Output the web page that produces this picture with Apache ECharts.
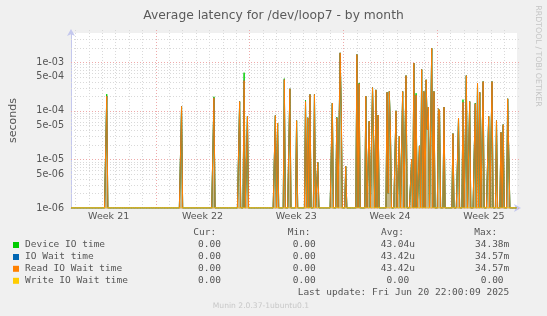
<!DOCTYPE html>
<html><head><meta charset="utf-8">
<script src="https://cdn.jsdelivr.net/npm/echarts@6/dist/echarts.min.js"></script>
<style>html,body{margin:0;padding:0;background:#f0f0f0;} #c{width:547px;height:316px;}</style>
</head><body><div id="c"></div>
<script>
// ---------- data ----------
const chartTitle = 'Average latency for /dev/loop7 - by month';
const seriesNames = ['Device IO time', 'IO Wait time', 'Read IO Wait time', 'Write IO Wait time'];
const seriesColors = ['#00cc00', '#0066b3', '#ff8000', '#ffcc00'];
// time axis in days since Sunday 2025-05-11 00:00; 2-hour samples
const START_DAY = 7.69;
const END_DAY = 40.97;
const SAMPLES_PER_DAY = 12;
const SAMPLE_COUNT = 400;
// non-zero 2h samples (sample index from START_DAY); all other samples are 0
const spikeIndex = [32, 99, 128, 151, 155, 158, 183, 185, 191, 196, 202, 210, 212, 214, 218, 221, 234, 238, 241, 242, 246,
  256, 258, 264, 267, 270, 271, 273, 275, 283, 284, 285, 286, 291, 294, 297, 300, 305, 307, 309, 312, 314, 316, 318, 319, 320,
  323, 325, 329, 330, 334, 342, 347, 351, 354, 357, 362, 364, 366, 369, 374, 377, 381, 385, 387, 391, 392];
const readWait = [2.0e-4, 1.23e-4, 1.85e-4, 1.55e-4, 4.2e-4, 7.7e-5, 8.0e-5, 5.6e-5, 4.4e-4, 2.84e-4, 6.3e-5, 1.55e-4, 7.2e-5, 2.17e-4, 2.17e-4, 8.7e-6, 1.44e-4, 7.2e-5, 1.56e-3, 1.0e-4, 7.2e-6,
  1.44e-3, 3.6e-4, 2.0e-4, 6.1e-5, 3.0e-4, 2.3e-5, 2.7e-4, 8.2e-5, 2.4e-4, 2.0e-6, 2.5e-4, 4.3e-5, 1.0e-4, 3.0e-5, 2.5e-4, 5.3e-4, 1.0e-5, 9.6e-4, 2.1e-4, 1.9e-5, 7.1e-4, 2.5e-4, 4.35e-4, 4.1e-5, 1.19e-4,
  1.94e-3, 2.5e-4, 1.1e-4, 1.0e-4, 1.19e-4, 3.4e-5, 7.1e-5, 1.5e-4, 5.3e-4, 1.55e-4, 1.4e-4, 3.7e-4, 2.4e-4, 4.0e-4, 7.7e-5, 4.0e-4, 6.3e-5, 3.6e-5, 5.2e-5, 1.77e-4, 1.77e-4];
const ioWait = readWait.slice();
const deviceIO = [2.2e-4, 1.23e-4, 1.95e-4, 1.55e-4, 6.1e-4, 7.7e-5, 8.0e-5, 5.6e-5, 4.6e-4, 2.84e-4, 6.3e-5, 1.65e-4, 7.2e-5, 2.17e-4, 2.17e-4, 8.7e-6, 1.44e-4, 7.4e-5, 1.56e-3, 1.0e-4, 7.2e-6,
  1.44e-3, 3.75e-4, 2.0e-4, 6.1e-5, 3.0e-4, 2.3e-5, 2.7e-4, 8.2e-5, 2.4e-4, 2.0e-6, 2.5e-4, 4.6e-5, 1.0e-4, 3.0e-5, 2.5e-4, 5.3e-4, 1.0e-5, 9.6e-4, 2.3e-4, 1.9e-5, 7.1e-4, 2.5e-4, 4.35e-4, 4.3e-5, 1.19e-4,
  1.94e-3, 2.5e-4, 1.1e-4, 1.0e-4, 1.19e-4, 3.4e-5, 7.1e-5, 1.7e-4, 5.3e-4, 1.55e-4, 1.45e-4, 3.7e-4, 2.4e-4, 4.0e-4, 7.7e-5, 4.0e-4, 6.3e-5, 3.6e-5, 5.2e-5, 1.77e-4, 1.77e-4];
const writeWait = [];
const yMinValue = 1e-6, yMaxValue = 4e-3;
const yTickValues = [1e-6, 5e-6, 1e-5, 5e-5, 1e-4, 5e-4, 1e-3];
const yTickLabels = ['1e-06', '5e-06', '1e-05', '5e-05', '1e-04', '5e-04', '1e-03'];
const xTickDays = [10.5, 17.5, 24.5, 31.5, 38.5];
const xTickLabels = ['Week 21', 'Week 22', 'Week 23', 'Week 24', 'Week 25'];
const legendCur = ['0.00 ', '0.00 ', '0.00 ', '0.00 '];
const legendMin = ['0.00 ', '0.00 ', '0.00 ', '0.00 '];
const legendAvg = ['43.04u', '43.42u', '43.42u', '0.00 '];
const legendMax = ['34.38m', '34.57m', '34.57m', '0.00 '];
const lastUpdate = 'Last update: Fri Jun 20 22:00:09 2025';
const footer = 'Munin 2.0.37-1ubuntu0.1';
const sideText = 'RRDTOOL / TOBI OETIKER';

// ---------- build ----------
const Y_MIN = Math.log10(yMinValue), Y_MAX = Math.log10(yMaxValue);
const toY = v => (v > 0 ? Math.log10(v) : Y_MIN);
function buildSeries(vals) {
  const m = new Map();
  spikeIndex.forEach((k, i) => { if (vals[i] !== undefined) m.set(k, vals[i]); });
  const out = [];
  for (let k = 0; k < SAMPLE_COUNT; k++) out.push([START_DAY + k / SAMPLES_PER_DAY, toY(m.get(k) || 0)]);
  return out;
}
const gridData = [];
for (let d = Math.ceil(START_DAY); d <= END_DAY; d++) gridData.push([d, Y_MIN, 0, d % 7 === 0 ? 1 : 0]);
for (let e = -6; e <= -3; e++) for (let mm = 1; mm <= 9; mm++) {
  const y = e + Math.log10(mm);
  if (y < Y_MAX - 0.01) gridData.push([START_DAY, y, 1, mm === 1 ? 1 : 0]);
}
const yTickPos = yTickValues.map(v => Math.log10(v));

const FONT = 'DejaVu Sans';
const MONO = 'DejaVu Sans Mono';
const TXT = '#555555';
const rowY = [245, 257, 268.8, 280.8];
const graphics = [];
graphics.push({ type: 'text', x: 538, y: 56, rotation: -Math.PI / 2, silent: true,
  style: { text: sideText, fill: '#c4c4c4', font: '7.9px ' + FONT, align: 'center', verticalAlign: 'middle' } });
const headers = [['Cur:', 193.3], ['Min:', 287.7], ['Avg:', 381], ['Max:', 474.3]];
headers.forEach(h => graphics.push({ type: 'text', x: h[1], y: 232.5, silent: true,
  style: { text: h[0], fill: TXT, font: '9.5px ' + MONO, align: 'left', verticalAlign: 'middle' } }));
const colRight = [226.7, 321.4, 415, 509.3];
seriesNames.forEach((n, i) => {
  graphics.push({ type: 'rect', shape: { x: 13, y: rowY[i] - 3, width: 6, height: 6 }, style: { fill: seriesColors[i] }, silent: true });
  graphics.push({ type: 'text', x: 25, y: rowY[i], silent: true,
    style: { text: n, fill: TXT, font: '9.5px ' + MONO, align: 'left', verticalAlign: 'middle' } });
  [legendCur[i], legendMin[i], legendAvg[i], legendMax[i]].forEach((v, j) => graphics.push({ type: 'text', x: colRight[j], y: rowY[i], silent: true,
    style: { text: v, fill: TXT, font: '9.5px ' + MONO, align: 'right', verticalAlign: 'middle' } }));
});
graphics.push({ type: 'text', x: 509.3, y: 292.7, silent: true,
  style: { text: lastUpdate, fill: TXT, font: '9.5px ' + MONO, align: 'right', verticalAlign: 'middle' } });
graphics.push({ type: 'text', x: 261, y: 305.7, silent: true,
  style: { text: footer, fill: '#c8c8c8', font: '7.6px ' + FONT, align: 'center', verticalAlign: 'middle' } });

const dataSeries = [deviceIO, ioWait, readWait, writeWait].map((vals, i) => ({
  name: seriesNames[i], type: 'line', data: buildSeries(vals), showSymbol: false, symbol: 'none',
  sampling: null, z: 3 + i, clip: true,
  lineStyle: { color: seriesColors[i], width: 1 },
  areaStyle: i === 0 ? { color: { type: 'linear', x: 0, y: 0, x2: 0, y2: 1, colorStops: [
    { offset: 0, color: 'rgba(120,170,80,0.6)' }, { offset: 1, color: 'rgba(150,125,45,0.8)' }] }, origin: 'start' } : undefined,
  emphasis: { disabled: true }
}));

const option = {
  animation: false,
  backgroundColor: '#f0f0f0',
  title: { text: chartTitle, left: 'center', top: 5, textStyle: { fontFamily: FONT, fontSize: 12.3, fontWeight: 'normal', color: '#5a5a5a' } },
  grid: { left: 67, right: 30, top: 33, bottom: 108, show: true, backgroundColor: '#ffffff', borderWidth: 0 },
  xAxis: {
    type: 'value', min: START_DAY, max: END_DAY,
    axisLine: { show: true, lineStyle: { color: '#c4c8ee', width: 1 }, symbol: ['none', 'arrow'], symbolSize: [6, 7], symbolOffset: [0, 4] },
    axisTick: { show: false }, splitLine: { show: false },
    axisLabel: { customValues: xTickDays, margin: 4, color: TXT, fontFamily: FONT, fontSize: 9.5,
      formatter: v => { const i = xTickDays.findIndex(d => Math.abs(d - v) < 1e-6); return i >= 0 ? xTickLabels[i] : ''; } }
  },
  yAxis: {
    type: 'value', min: Y_MIN, max: Y_MAX,
    name: 'seconds', nameLocation: 'middle', nameRotate: 90, nameGap: 52,
    nameTextStyle: { color: TXT, fontFamily: FONT, fontSize: 11 },
    axisLine: { show: true, lineStyle: { color: '#c4c8ee', width: 1 }, symbol: ['none', 'arrow'], symbolSize: [6, 7], symbolOffset: [0, 4] },
    axisTick: { show: false }, splitLine: { show: false },
    axisLabel: { customValues: yTickPos, margin: 7, color: TXT, fontFamily: FONT, fontSize: 9.6,
      formatter: v => { const i = yTickPos.findIndex(p => Math.abs(p - v) < 1e-6); return i >= 0 ? yTickLabels[i] : ''; } }
  },
  series: [{
    type: 'custom', data: gridData, z: 1, silent: true, clip: false,
    renderItem: (params, api) => {
      const cs = params.coordSys;
      const kind = api.value(2), major = api.value(3);
      let shape;
      if (kind === 0) {
        const p = api.coord([api.value(0), Y_MIN]);
        const x = Math.round(p[0]) + 0.5;
        shape = { x1: x, y1: cs.y - 3, x2: x, y2: cs.y + cs.height };
      } else {
        const p = api.coord([START_DAY, api.value(1)]);
        const y = Math.round(p[1]) + 0.5;
        shape = { x1: cs.x, y1: y, x2: cs.x + cs.width + 3, y2: y };
      }
      return { type: 'line', shape, silent: true,
        style: { stroke: major ? '#eeaaaa' : '#d9d9d9', lineWidth: 1, lineDash: [1, 2] } };
    }
  }].concat(dataSeries),
  graphic: graphics
};
const chart = echarts.init(document.getElementById('c'));
chart.setOption(option);
</script></body></html>
